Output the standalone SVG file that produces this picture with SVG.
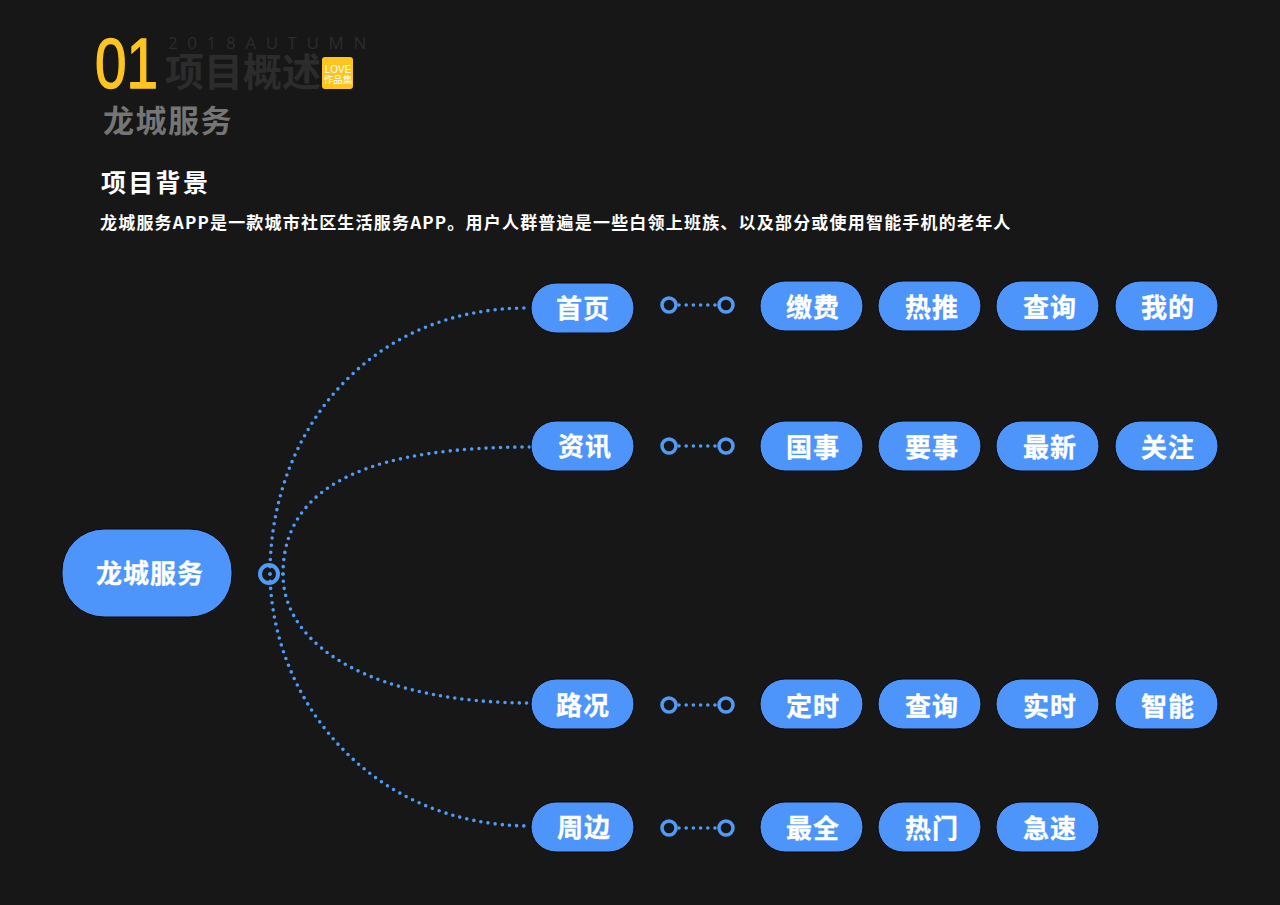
<svg xmlns="http://www.w3.org/2000/svg" width="1280" height="905" viewBox="0 0 1280 905">
<style>
text{font-family:"Noto Sans CJK SC","Noto Sans",sans-serif;font-weight:700}
.p{fill:#4d94fb;stroke:#0a0a0a;stroke-width:1}
.t{fill:#fff;font-size:26px;letter-spacing:1px;text-anchor:middle;stroke:#fff;stroke-width:.3}
.d{fill:none;stroke:#4f9bf5;stroke-width:3.6;stroke-linecap:round;stroke-dasharray:0 7.2}
.r{fill:none;stroke:#4f9bf5}
</style>
<rect width="1280" height="905" fill="#171717"/>
<g id="header">
<text x="95" y="88" font-size="70" fill="#fec41f" stroke="#fec41f" stroke-width="1.500" style="font-family:'Liberation Sans',sans-serif;font-weight:400" textLength="63" lengthAdjust="spacingAndGlyphs">01</text>
<text x="168" y="49" font-size="17" fill="#2c2c2c" style="font-family:'Open Sans',sans-serif;font-weight:400" letter-spacing="9.6">2018AUTUMN</text>
<text x="165" y="86" font-size="39" fill="#2c2c2c">项目概述</text>
<rect x="322" y="57" width="31" height="32" rx="3" fill="#fec41f"/>
<text x="338" y="73" font-size="10" fill="#fff" text-anchor="middle" style="font-family:'Liberation Sans',sans-serif;font-weight:400">LOVE</text>
<text x="338" y="83" font-size="9.500" fill="#fff" text-anchor="middle" style="font-weight:400">作品集</text>
<text x="103" y="132" font-size="31" fill="#757575" letter-spacing="1.500">龙城服务</text>
<text x="101" y="192" font-size="25" fill="#fff" letter-spacing="2.300">项目背景</text>
<text x="100" y="229" font-size="17" fill="#fff" letter-spacing="1.200">龙城服务APP是一款城市社区生活服务APP。用户人群普遍是一些白领上班族、以及部分或使用智能手机的老年人</text>
</g>
<g id="connectors">
<path class="d" d="M270,574C270,430 370,308 527,308"/>
<path class="d" d="M283,574C283,480 380,447 531,447"/>
<path class="d" d="M283,574C283,650 380,703 531,703"/>
<path class="d" d="M270,574C272,700 370,826 531,826"/>
<path class="d" d="M679,305H720"/>
<path class="d" d="M679,446H720"/>
<path class="d" d="M679,705H720"/>
<path class="d" d="M679,828H720"/>
<circle class="r" stroke-width="4" cx="269" cy="574" r="9"/>
<g stroke-width="3.500">
<circle class="r" cx="669" cy="305" r="7"/><circle class="r" cx="726" cy="305" r="7"/>
<circle class="r" cx="669" cy="446" r="7"/><circle class="r" cx="726" cy="446" r="7"/>
<circle class="r" cx="669" cy="705" r="7"/><circle class="r" cx="726" cy="705" r="7"/>
<circle class="r" cx="669" cy="828" r="7"/><circle class="r" cx="726" cy="828" r="7"/>
</g>
</g>
<g id="root"><rect class="p" x="62" y="529" width="170" height="88" rx="42"/><text class="t" x="150" y="583">龙城服务</text></g>
<g id="n1"><rect class="p" x="531" y="283" width="103" height="50" rx="25"/><text class="t" x="583" y="318">首页</text></g>
<g id="n2"><rect class="p" x="531" y="421" width="103" height="50" rx="25"/><text class="t" x="585" y="456">资讯</text></g>
<g id="n3"><rect class="p" x="531" y="679" width="103" height="50" rx="25"/><text class="t" x="583" y="715">路况</text></g>
<g id="n4"><rect class="p" x="531" y="802" width="103" height="50" rx="25"/><text class="t" x="584" y="837">周边</text></g>
<g id="a1"><rect class="p" x="760" y="281" width="103" height="50" rx="25"/><text class="t" x="813" y="317">缴费</text></g>
<g id="a2"><rect class="p" x="878" y="281" width="103" height="50" rx="25"/><text class="t" x="932" y="317">热推</text></g>
<g id="a3"><rect class="p" x="996" y="281" width="103" height="50" rx="25"/><text class="t" x="1050" y="317">查询</text></g>
<g id="a4"><rect class="p" x="1115" y="281" width="103" height="50" rx="25"/><text class="t" x="1168" y="317">我的</text></g>
<g id="b1"><rect class="p" x="760" y="421" width="103" height="50" rx="25"/><text class="t" x="813" y="457">国事</text></g>
<g id="b2"><rect class="p" x="878" y="421" width="103" height="50" rx="25"/><text class="t" x="932" y="457">要事</text></g>
<g id="b3"><rect class="p" x="996" y="421" width="103" height="50" rx="25"/><text class="t" x="1050" y="457">最新</text></g>
<g id="b4"><rect class="p" x="1115" y="421" width="103" height="50" rx="25"/><text class="t" x="1168" y="457">关注</text></g>
<g id="c1"><rect class="p" x="760" y="679" width="103" height="50" rx="25"/><text class="t" x="813" y="716">定时</text></g>
<g id="c2"><rect class="p" x="878" y="679" width="103" height="50" rx="25"/><text class="t" x="932" y="716">查询</text></g>
<g id="c3"><rect class="p" x="996" y="679" width="103" height="50" rx="25"/><text class="t" x="1050" y="716">实时</text></g>
<g id="c4"><rect class="p" x="1115" y="679" width="103" height="50" rx="25"/><text class="t" x="1168" y="716">智能</text></g>
<g id="d1"><rect class="p" x="760" y="802" width="103" height="50" rx="25"/><text class="t" x="813" y="838">最全</text></g>
<g id="d2"><rect class="p" x="878" y="802" width="103" height="50" rx="25"/><text class="t" x="932" y="838">热门</text></g>
<g id="d3"><rect class="p" x="996" y="802" width="103" height="50" rx="25"/><text class="t" x="1050" y="838">急速</text></g>
</svg>
